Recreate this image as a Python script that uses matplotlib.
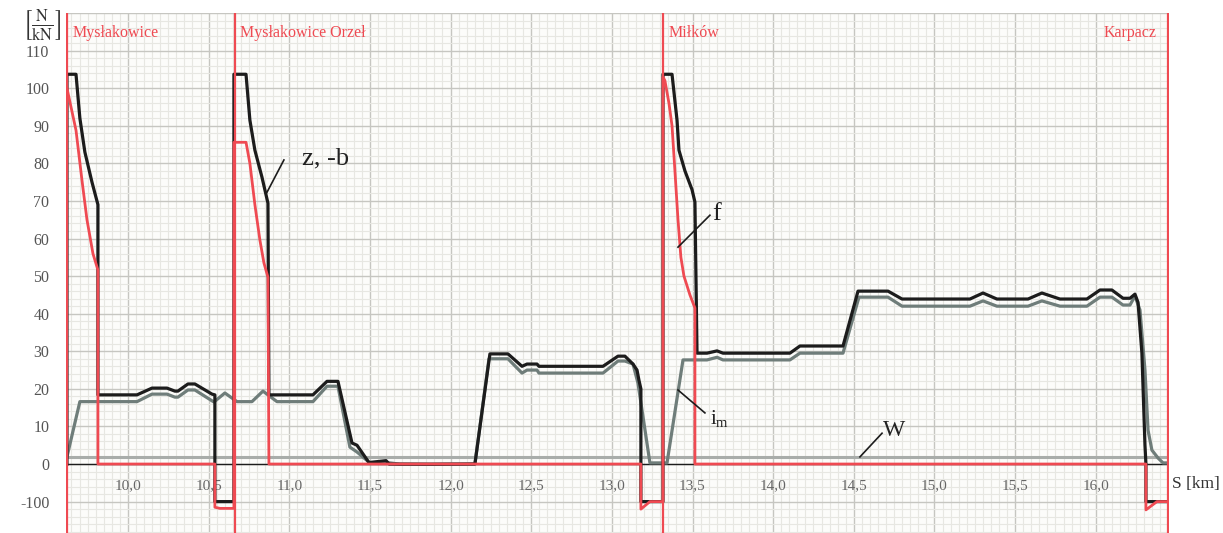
import numpy as np
import matplotlib
matplotlib.use('Agg')
import matplotlib.pyplot as plt
from matplotlib.ticker import FixedLocator

plt.rcParams['font.family'] = ['Liberation Serif', 'DejaVu Serif']
plt.rcParams['mathtext.fontset'] = 'stix'

RED = '#ef4a52'
BLACK = '#1c1c1c'
GREY = '#6f7d7a'
W_GREY = '#a9adaa'

# stations (km)
stations = ['Mysłakowice', 'Mysłakowice Orzeł', 'Miłków', 'Karpacz']
station_km = [9.622, 10.663, 13.317, 16.448]

# z, -b  [N/kN]
z_km = [9.622, 9.622, 9.678, 9.702, 9.733, 9.777, 9.814, 9.814, 10.056, 10.149, 10.242, 10.291,
        10.310, 10.372, 10.415, 10.521, 10.539, 10.539, 10.657, 10.657, 10.732, 10.756, 10.787,
        10.831, 10.868, 10.874, 11.147, 11.234, 11.302, 11.389, 11.420, 11.494, 11.600, 11.620,
        11.686, 11.872, 11.953, 12.151, 12.244, 12.356, 12.443, 12.474, 12.536, 12.548, 12.945,
        13.038, 13.081, 13.131, 13.156, 13.168, 13.180, 13.180, 13.317, 13.317, 13.373, 13.404,
        13.416, 13.453, 13.497, 13.515, 13.528, 13.590, 13.652, 13.689, 14.104, 14.166, 14.433,
        14.526, 14.712, 14.799, 15.220, 15.301, 15.387, 15.580, 15.666, 15.778, 15.945, 16.026,
        16.100, 16.169, 16.212, 16.243, 16.262, 16.286, 16.305, 16.311, 16.311, 16.448]
z_val = [0, 103.7, 103.7, 92, 83, 75, 69, 18.4, 18.4, 20.2, 20.2, 19.4,
         19.4, 21.3, 21.3, 18.6, 18.4, -100, -100, 103.7, 103.7, 91.5, 83.5,
         76.3, 69.4, 18.4, 18.4, 22, 22, 5.6, 5, 0.4, 0.9, -0.2,
         -0.4, -0.7, -0.5, 0, 29.3, 29.3, 26, 26.6, 26.6, 26, 26,
         28.7, 28.7, 26.6, 25, 22.3, 20, -100, -100, 103.7, 103.7, 91.5,
         83.5, 78, 73, 69.7, 29.5, 29.5, 30.1, 29.5, 29.5, 31.4, 31.4,
         46, 46, 43.9, 43.9, 45.5, 43.9, 43.9, 45.5, 43.9, 43.9, 46.3,
         46.3, 44.1, 44.1, 45.2, 43, 29.5, 5, 0, -100, -100]

# f  [N/kN]
f_km = [9.622, 9.678, 9.715, 9.746, 9.783, 9.814, 9.814, 10.539, 10.539, 10.570, 10.657,
        10.657, 10.732, 10.756, 10.787, 10.818, 10.843, 10.868, 10.874, 13.180, 13.180,
        13.236, 13.317, 13.317, 13.329, 13.354, 13.373, 13.391, 13.410, 13.428, 13.447,
        13.484, 13.515, 13.515, 16.311, 16.311, 16.379, 16.448]
f_val = [100, 88.8, 75.5, 65, 56, 51.6, 0, 0, -115, -118, -118,
         85.6, 85.6, 80, 69, 59.6, 53.5, 49.7, 0, 0, -120,
         -100, -100, 103, 102, 96, 90, 78, 65, 55, 50,
         45, 41.5, 0, 0, -122, -100, -100]

# i_m  [N/kN]
im_km = [9.622, 9.702, 10.056, 10.149, 10.242, 10.291, 10.310, 10.372, 10.415, 10.533, 10.601,
         10.676, 10.769, 10.837, 10.924, 11.147, 11.234, 11.302, 11.376, 11.420, 11.500, 11.624,
         11.686, 11.872, 12.058, 12.151, 12.238, 12.356, 12.443, 12.474, 12.536, 12.548, 12.945,
         13.038, 13.081, 13.131, 13.162, 13.236, 13.342, 13.441, 13.590, 13.652, 13.689, 14.104,
         14.166, 14.433, 14.532, 14.712, 14.799, 15.220, 15.301, 15.387, 15.580, 15.666, 15.778,
         15.945, 16.026, 16.100, 16.169, 16.212, 16.243, 16.274, 16.305, 16.324, 16.348, 16.386,
         16.417, 16.448]
im_val = [1.9, 16.6, 16.6, 18.6, 18.6, 17.8, 17.8, 19.7, 19.7, 16.5, 18.9,
          16.6, 16.6, 19.4, 16.6, 16.6, 20.7, 20.7, 4.5, 3.2, 0.3, 0.3,
          -0.3, -0.5, -0.3, 0, 28, 28, 24.2, 25, 25, 24.2, 24.2,
          27.4, 27.4, 26.6, 21.5, 0.3, 0.3, 27.7, 27.7, 28.4, 27.7, 27.7,
          29.5, 29.5, 44.4, 44.4, 42, 42, 43.4, 42, 42, 43.4, 42,
          42, 44.4, 44.4, 42.3, 42.3, 44.7, 41, 25, 9, 3.7, 1.6,
          0.3, 0.3]

w_level = 1.9

y_ticks = [-100, 0, 10, 20, 30, 40, 50, 60, 70, 80, 90, 100, 110]
x_ticks = [10.0, 10.5, 11.0, 11.5, 12.0, 12.5, 13.0, 13.5, 14.0, 14.5, 15.0, 15.5, 16.0]
x_labels = ['10,0', '10,5', '11,0', '11,5', '12,0', '12,5', '13,0', '13,5', '14,0', '14,5',
            '15,0', '15,5', '16,0']


def fwd(v):
    v = np.asarray(v, dtype=float)
    return np.where(v >= 0, v, v / 10.0)


def inv(v):
    v = np.asarray(v, dtype=float)
    return np.where(v >= 0, v, v * 10.0)


fig = plt.figure(figsize=(12.23, 5.33), dpi=100)
ax = fig.add_axes([66 / 1223, 0, 1103 / 1223, 520 / 533])
ax.set_facecolor('#fcfcfa')
ax.set_yscale('function', functions=(fwd, inv))
ax.set_xlim(9.616, 16.454)
ax.set_ylim(-183.5, 120)

# graph paper grid
y_major = [-100] + list(range(0, 121, 10))
y_minor = [-180, -160, -140, -120, -80, -60, -40, -20] + [v for v in range(2, 120, 2) if v % 10]
x_major = list(np.arange(9.5, 16.51, 0.5))
x_minor = [v for v in np.arange(9.6, 16.5, 0.05) if abs(v * 2 - round(v * 2)) > 1e-6]
ax.yaxis.set_major_locator(FixedLocator(y_major))
ax.yaxis.set_minor_locator(FixedLocator(y_minor))
ax.xaxis.set_major_locator(FixedLocator(x_major))
ax.xaxis.set_minor_locator(FixedLocator(x_minor))
ax.grid(which='major', color='#c6c6c1', lw=1.0)
ax.grid(which='minor', color='#e7e7e2', lw=0.8)
ax.set_axisbelow(True)
ax.tick_params(which='both', length=0)
ax.set_xticklabels([])
ax.set_yticklabels([str(v) if v in y_ticks else '' for v in y_major],
                   fontsize=11.5, color='#555555')
ax.tick_params(axis='y', pad=12)
for s in ax.spines.values():
    s.set_visible(False)

# curves
ax.plot([station_km[0], station_km[-1]], [w_level, w_level], color=W_GREY, lw=2.2, zorder=3)
ax.plot([station_km[0], station_km[-1]], [0, 0], color=BLACK, lw=1.0, zorder=3)
ax.plot(im_km, im_val, color=GREY, lw=2.3, zorder=4)
ax.plot(z_km, z_val, color=BLACK, lw=2.3, zorder=5)
ax.plot(f_km, f_val, color=RED, lw=2.0, zorder=6)

for name, km in zip(stations, station_km):
    ax.axvline(km, color=RED, lw=1.6, zorder=7)
    if name == 'Karpacz':
        ax.annotate(name, (km, 114.6), xytext=(-8, 0), textcoords='offset points',
                    ha='right', va='center', color=RED, fontsize=11.5)
    else:
        ax.annotate(name, (km, 114.6), xytext=(4, 0), textcoords='offset points',
                    ha='left', va='center', color=RED, fontsize=11.5)

for km, lab in zip(x_ticks, x_labels):
    ax.text(km, -58.5, lab, ha='center', va='center', fontsize=11, color='#666666')

# labels on the curves
ax.plot([10.862, 10.967], [72.3, 80.9], color=BLACK, lw=1.2, zorder=8)
ax.text(11.08, 81.4, 'z, -b', fontsize=19, color='#222222', va='center', ha='left')
ax.plot([13.41, 13.608], [57.7, 66.2], color=BLACK, lw=1.2, zorder=8)
ax.text(13.625, 66.5, 'f', fontsize=19, color='#222222', va='center', ha='left')
ax.plot([13.41, 13.577], [19.7, 13.6], color=BLACK, lw=1.2, zorder=8)
ax.text(13.61, 12.0, r'$\mathregular{i_m}$', fontsize=15, color='#222222', va='center', ha='left')
ax.plot([14.538, 14.675], [1.9, 8.2], color=BLACK, lw=1.2, zorder=8)
ax.text(14.68, 8.8, 'W', fontsize=17, color='#222222', va='center', ha='left')

fig.text(1172 / 1223, 1 - 484 / 533, 'S [km]', fontsize=12.5, color='#333333', va='center', ha='left')
fig.text(42 / 1223, 1 - 26 / 533, r'$\left[\frac{\mathrm{N}}{\mathrm{kN}}\right]$',
         fontsize=17, color='#333333', va='center', ha='center')

fig.savefig('out.png', dpi=100)
